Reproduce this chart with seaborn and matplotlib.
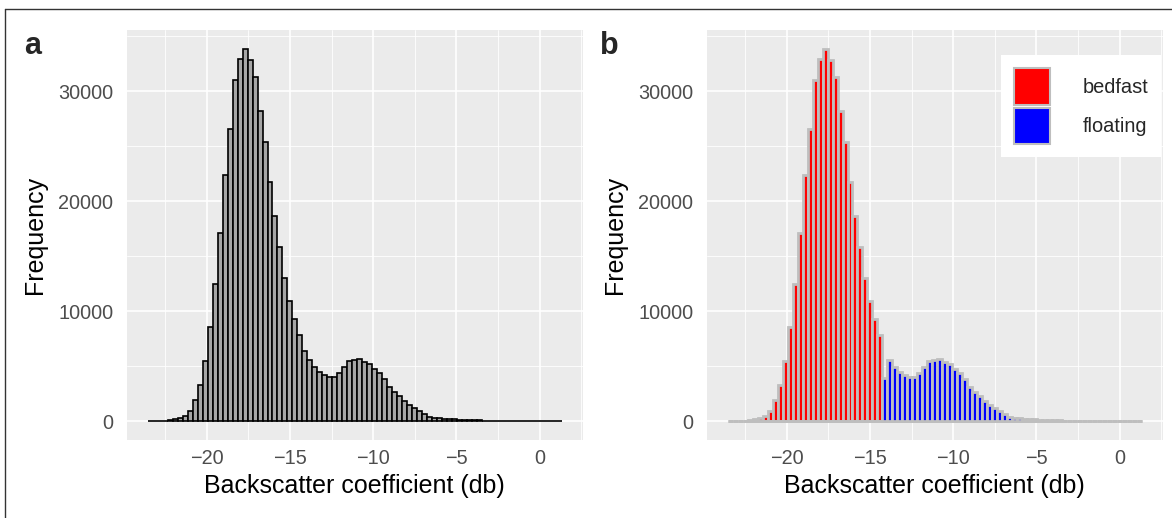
import numpy as np
import pandas as pd
import matplotlib
matplotlib.use("Agg")
import matplotlib.pyplot as plt
from matplotlib.patches import Patch
from matplotlib.lines import Line2D
import seaborn as sns

# ---------------- data ----------------
bin_start = -23.55
bin_width = 0.3
counts = [
    5, 10, 25, 45, 90, 200, 350, 530, 980, 1950,
    3320, 5500, 8530, 12470, 17110, 22350, 26590, 31050, 32950, 33860,
    32790, 31310, 28220, 25400, 21700, 18670, 15820, 13060, 10910, 9310,
    7830, 6400, 5580, 4970, 4500, 4200, 4060, 4060, 4370, 4900,
    5520, 5550, 5670, 5410, 5180, 4770, 4400, 3850, 3120, 2680,
    2260, 1870, 1510, 1200, 900, 650, 440, 350, 300, 250,
    210, 180, 150, 130, 110, 95, 80, 70, 60, 50,
    45, 40, 35, 30, 25, 22, 20, 18, 15, 12, 10, 8, 6,
]
threshold_bin = 31          # bin where classes meet
threshold_bedfast = 2460    # bedfast part of that bin
threshold_floating = 3940   # floating part of that bin
classes = ["bedfast", "floating"]
class_colors = ["#FF0000", "#0000FF"]
x_ticks = [-20, -15, -10, -5, 0]
y_ticks = [0, 10000, 20000, 30000]

# ---------------- derived tables ----------------
counts = np.array(counts, dtype=float)
nbins = len(counts)
edges = bin_start + bin_width * np.arange(nbins + 1)
centers = (edges[:-1] + edges[1:]) / 2
idx = np.arange(nbins)
bedfast = np.where(idx < threshold_bin, counts, 0.0)
floating = np.where(idx > threshold_bin, counts, 0.0)
bedfast[threshold_bin] = threshold_bedfast
floating[threshold_bin] = threshold_floating
df = pd.DataFrame({"x": centers, "total": counts,
                   "bedfast": bedfast, "floating": floating})
brange = (float(edges[0]), float(edges[-1]))

# ---------------- style ----------------
sns.set_style("white")
plt.rcParams["font.family"] = ["Liberation Sans", "DejaVu Sans"]

W, H = 1172, 518
fig = plt.figure(figsize=(W / 100, H / 100), dpi=100)
axA = fig.add_axes([127 / W, 78 / H, 455.7 / W, 410 / H])
axB = fig.add_axes([707 / W, 78 / H, 455.7 / W, 410 / H])

# panel a
sns.histplot(data=df, x="x", weights="total", bins=nbins, binrange=brange, ax=axA,
             color="#A6A6A6", edgecolor="black", linewidth=1.2, alpha=1)

# panel b (layers: bedfast then floating on top)
sns.histplot(data=df, x="x", weights="bedfast", bins=nbins, binrange=brange, ax=axB,
             color=class_colors[0], edgecolor="#BEBEBE", linewidth=2.0, alpha=1)
sns.histplot(data=df, x="x", weights="floating", bins=nbins, binrange=brange, ax=axB,
             color=class_colors[1], edgecolor="#BEBEBE", linewidth=2.0, alpha=1)

ymax = counts.max()
xr = edges[-1] - edges[0]
for ax in (axA, axB):
    ax.set_facecolor("#EBEBEB")
    for s in ax.spines.values():
        s.set_visible(False)
    ax.set_xlim(edges[0] - 0.05 * xr, edges[-1] + 0.05 * xr)
    ax.set_ylim(-0.05 * ymax, 1.05 * ymax)
    ax.set_xticks(x_ticks)
    ax.set_xticks([-22.5, -17.5, -12.5, -7.5, -2.5, 2.5], minor=True)
    ax.set_yticks(y_ticks)
    ax.set_yticks([5000, 15000, 25000, 35000], minor=True)
    ax.set_xticklabels([f"{t}".replace("-", "\u2212") for t in x_ticks])
    ax.set_yticklabels([str(t) for t in y_ticks])
    ax.grid(which="major", color="white", linewidth=1.2)
    ax.grid(which="minor", color="white", linewidth=0.6)
    ax.set_axisbelow(True)
    ax.tick_params(which="major", length=4.3, width=1.0, color="#333333",
                   labelcolor="#4D4D4D", labelsize=14.3)
    ax.tick_params(axis="x", which="major", pad=2.5)
    ax.tick_params(axis="y", which="major", pad=5.5)
    ax.tick_params(which="minor", length=0)
    ax.set_xlabel("Backscatter coefficient (db)", fontsize=18, color="black", labelpad=4)
    ax.set_ylabel("Frequency", fontsize=18, color="black", labelpad=8)

# legend on panel b
handles = [Patch(facecolor=c, edgecolor="#BEBEBE", linewidth=1.5, label=l)
           for c, l in zip(class_colors, classes)]
leg = axB.legend(handles=handles, loc="upper right", bbox_to_anchor=(0.997, 0.938),
                 borderaxespad=0, frameon=True, fancybox=False, fontsize=14.4,
                 handlelength=1.8, handleheight=2.45, handletextpad=1.65,
                 labelspacing=0.12, borderpad=0.65)
leg.get_frame().set_facecolor("white")
leg.get_frame().set_edgecolor("none")
leg.get_frame().set_alpha(1)

# panel letters
fig.text(24 / W, 1 - 53.5 / H, "a", fontsize=22, fontweight="bold", ha="left", va="baseline")
fig.text(600 / W, 1 - 53.5 / H, "b", fontsize=22, fontweight="bold", ha="left", va="baseline")

# figure border (left and top edges only)
fig.add_artist(Line2D([4.5 / W, 4.5 / W], [0, 1 - 8.5 / H], transform=fig.transFigure,
                      color="#333333", linewidth=1.0))
fig.add_artist(Line2D([4.5 / W, 1], [1 - 8.5 / H, 1 - 8.5 / H], transform=fig.transFigure,
                      color="#333333", linewidth=1.0))

fig.savefig("out.png", dpi=100)
